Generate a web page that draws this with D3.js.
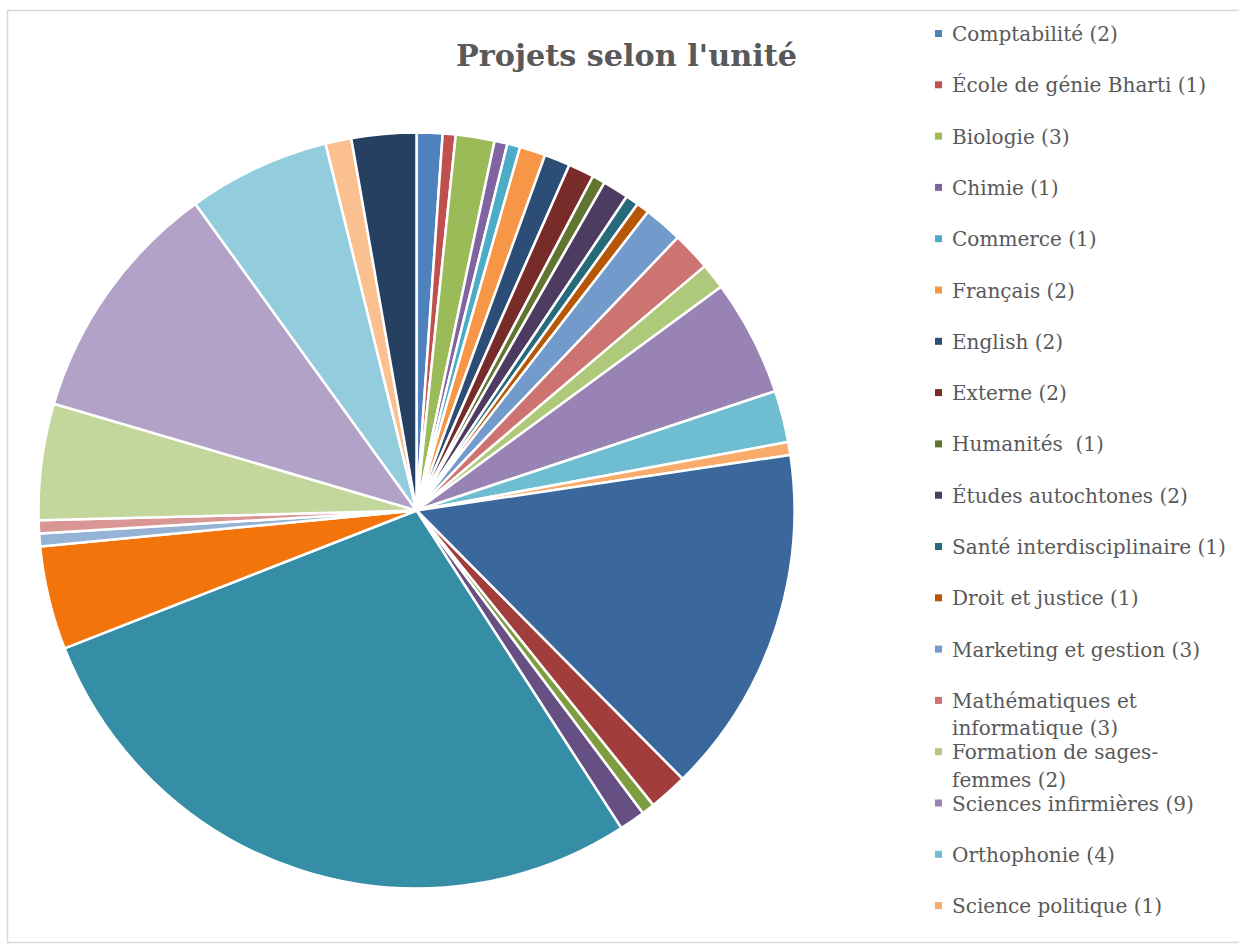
<!DOCTYPE html>
<html><head><meta charset="utf-8">
<script src="https://cdn.jsdelivr.net/npm/d3@7"></script>
<style>body{margin:0;background:#fff;} svg{display:block;}</style>
</head><body>
<svg id="c" width="1239" height="945"></svg>
<script>
const title = "Projets selon l'unité";
const categories = [
  "Comptabilité (2)","École de génie Bharti (1)","Biologie (3)","Chimie (1)","Commerce (1)",
  "Français (2)","English (2)","Externe (2)","Humanités  (1)","Études autochtones (2)",
  "Santé interdisciplinaire (1)","Droit et justice (1)","Marketing et gestion (3)",
  "Mathématiques et informatique (3)","Formation de sages-femmes (2)","Sciences infirmières (9)",
  "Orthophonie (4)","Science politique (1)",
  "Unité 19","Unité 20","Unité 21","Unité 22","Unité 23","Unité 24","Unité 25",
  "Unité 26","Unité 27","Unité 28","Unité 29","Unité 30","Unité 31"
];
const values = [2,1,3,1,1,2,2,2,1,2,1,1,3,3,2,9,4,1, 27,3,1,2,51,8,1,1,9,19,11,2,5];
const colors = [
  "#4F81BD","#C0504D","#9BBB59","#8064A2","#4BACC6","#F79646",
  "#2C4D75","#772C2A","#5F7530","#4D3B62","#276A7C","#B65708",
  "#729ACA","#CD7371","#AFC97A","#9983B5","#6FBDD1","#F9AB6B",
  "#3A679C","#A13E3B","#7E9D40","#664F83","#358EA6","#F3740B",
  "#95B3D7","#D99694","#C3D69B","#B3A2C7","#93CDDD","#FAC090","#254061"
];
// legend shows only the first 18 entries (truncated as in the original)
const legendLines = [
  ["Comptabilité (2)"],["École de génie Bharti (1)"],["Biologie (3)"],["Chimie (1)"],["Commerce (1)"],
  ["Français (2)"],["English (2)"],["Externe (2)"],["Humanités  (1)"],["Études autochtones (2)"],
  ["Santé interdisciplinaire (1)"],["Droit et justice (1)"],["Marketing et gestion (3)"],
  ["Mathématiques et","informatique (3)"],["Formation de sages-","femmes (2)"],["Sciences infirmières (9)"],
  ["Orthophonie (4)"],["Science politique (1)"]
];

const data = categories.map((c,i)=>({name:c, value:values[i], color:colors[i]}));
const svg = d3.select("#c");
const FONT = "'DejaVu Serif', serif";

svg.append("rect").attr("x",7.5).attr("y",10.5).attr("width",1260).attr("height",932)
  .attr("fill","#fff").attr("stroke","#D9D9D9").attr("stroke-width",1.5);

// fit a font size so a string spans a target width
function fitSize(txt, weight, target){
  const t = svg.append("text").attr("font-family",FONT).attr("font-weight",weight)
    .attr("font-size",20).style("white-space","pre").text(txt);
  const w = t.node().getComputedTextLength(); t.remove();
  return 20*target/w;
}
const titleSize = fitSize(title,"bold",341);
const legSize = fitSize("Comptabilité (2)","normal",166);

svg.append("text").attr("x",626.5).attr("y",66).attr("text-anchor","middle")
  .attr("font-family",FONT).attr("font-weight","bold").attr("font-size",titleSize)
  .attr("fill","#595959").text(title);

const cx=416.5, cy=510.5, r=378;
const pie = d3.pie().value(d=>d.value).sort(null);
const arc = d3.arc().innerRadius(0).outerRadius(r);
const g = svg.append("g").attr("transform",`translate(${cx},${cy})`);
g.selectAll("path").data(pie(data)).join("path")
  .attr("d",arc).attr("fill",d=>d.data.color)
  .attr("stroke","#fff").attr("stroke-width",2.5).attr("stroke-linejoin","round");

const leg = svg.append("g");
const y0=34, step=51.3, lh=27.5;
legendLines.forEach((lines,i)=>{
  const y = y0 + i*step;
  leg.append("rect").attr("x",935).attr("y",y-4).attr("width",7).attr("height",7).attr("fill",colors[i]);
  lines.forEach((t,j)=>{
    leg.append("text").attr("x",952).attr("y",y+j*lh).attr("dy","0.35em")
      .attr("font-family",FONT).attr("font-size",legSize).attr("fill","#595959")
      .style("white-space","pre").text(t);
  });
});
</script>
</body></html>
